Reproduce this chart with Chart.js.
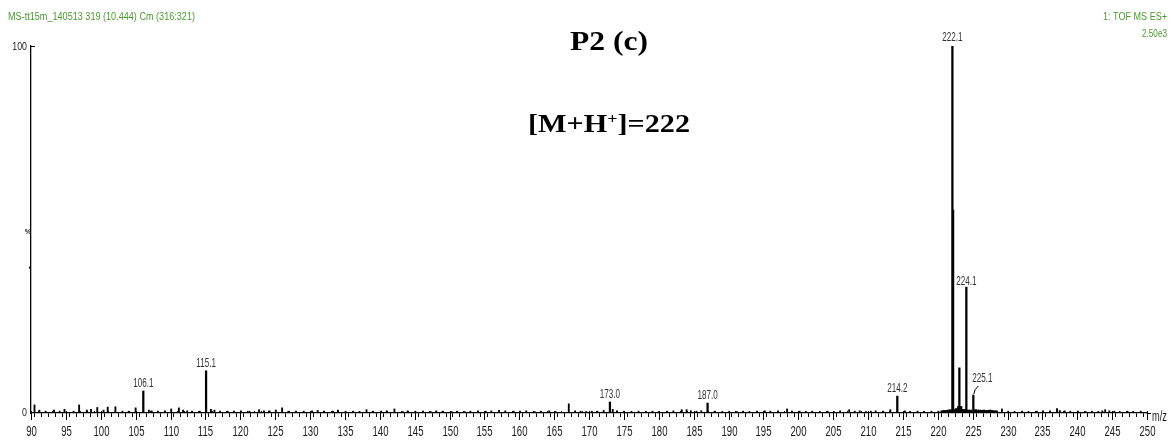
<!DOCTYPE html>
<html><head><meta charset="utf-8">
<script src="https://cdn.jsdelivr.net/npm/chart.js@4.4.1/dist/chart.umd.min.js"></script>
<style>html,body{margin:0;padding:0;background:#fff;overflow:hidden}</style>
</head><body>
<canvas id="c" width="1175" height="441"></canvas>
<script>
// ---- data ----
const xTickValues = [90,95,100,105,110,115,120,125,130,135,140,145,150,155,160,165,170,175,180,185,190,195,200,205,210,215,220,225,230,235,240,245,250];
const xTickLabels = ['90','95','100','105','110','115','120','125','130','135','140','145','150','155','160','165','170','175','180','185','190','195','200','205','210','215','220','225','230','235','240','245','250'];
const yTickValues = [0,100];
const yTickLabels = ['0','100'];

const peakMz     = [106.1, 115.1, 173.0, 187.0, 214.2, 222.1, 222.2, 223.1, 224.1, 225.1];
const peakPct    = [6.0,   11.5,  3.0,   2.7,   4.6,   100,   55.3,  12.3,  34.3,  4.9];
const peakLabels = ['106.1','115.1','173.0','187.0','214.2','222.1','','','224.1','225.1'];

const noiseMz  = [90.5,91.2,92.1,93.3,94.1,94.8,96.1,96.9,98.0,98.6,99.5,100.4,101.0,102.1,103.1,104.0,105.0,106.9,107.3,108.2,109.2,110.1,111.2,111.8,112.4,113.1,114.2,115.8,116.3,117.1,118.2,119.1,120.1,121.3,122.7,123.4,124.2,125.1,126.0,126.9,128.0,129.1,130.3,131.1,132.0,133.3,134.0,135.1,136.2,137.1,138.1,139.0,140.2,141.0,142.1,143.3,144.0,145.1,146.2,147.3,148.1,149.0,150.3,151.1,152.2,153.0,154.1,155.2,156.0,157.1,158.0,159.2,160.1,161.0,162.2,163.1,164.3,165.2,167.1,168.0,168.8,169.6,170.4,171.2,172.1,173.4,174.0,175.0,176.1,177.1,178.2,179.1,180.0,181.2,182.1,183.3,184.0,184.6,185.4,186.1,188.0,189.1,190.1,191.2,192.1,193.0,194.1,195.2,196.0,197.1,198.4,199.1,200.2,201.1,202.0,203.1,204.2,205.1,206.0,207.3,208.1,208.8,209.7,210.4,211.1,212.2,213.2,215.3,216.0,217.1,218.0,219.1,220.1,229.2,230.1,231.0,232.1,233.0,234.2,235.1,236.1,237.1,237.5,238.2,239.0,240.1,241.2,242.1,243.0,243.6,244.0,244.6,245.3,246.1,247.2,248.0,249.1];
const noisePct = [2.2,0.8,0.5,0.8,0.5,1.0,0.5,2.2,0.8,1.0,1.5,0.8,1.6,1.7,0.5,0.5,1.4,0.8,0.6,0.5,0.6,1.1,1.4,0.8,0.6,0.5,0.5,1.0,0.8,0.5,0.5,0.5,0.6,0.5,0.9,0.6,0.6,0.8,1.4,0.5,0.5,0.5,0.6,0.7,0.5,0.5,0.8,0.5,0.5,0.4,0.9,0.5,0.5,0.6,1.1,0.4,0.6,0.5,0.5,0.4,0.6,0.5,0.4,0.5,0.4,0.5,0.6,0.5,0.6,0.7,0.6,0.5,0.5,0.6,0.4,0.5,0.6,0.4,2.5,0.6,0.5,0.4,0.5,0.5,0.7,1.0,0.6,0.5,0.4,0.5,0.4,0.5,0.4,0.5,0.6,0.9,0.9,0.6,0.5,0.6,0.5,0.4,0.5,0.4,0.5,0.4,0.5,0.6,0.5,0.6,1.1,0.5,0.5,0.4,0.5,0.4,0.5,0.4,0.6,0.9,0.5,0.6,0.4,0.5,0.6,0.5,0.9,0.6,0.4,0.5,0.4,0.5,0.5,1.1,0.5,0.4,0.5,0.4,0.5,0.6,0.6,1.2,0.7,0.6,0.5,0.5,0.4,0.5,0.4,0.6,0.9,0.6,0.5,0.4,0.5,0.4,0.5];

const bandMz  = [220.6,220.9,221.2,221.5,221.8,222.4,222.7,223.0,223.3,223.6,223.9,224.4,224.7,225.4,225.7,226.0,226.3,226.6,226.9,227.2,227.5,227.8,228.1,228.4];
const bandPct = [0.6,0.7,0.7,0.8,0.9,1.0,1.2,1.8,1.8,1.0,0.9,0.8,0.8,0.9,0.8,0.8,0.7,0.8,0.7,0.7,0.8,0.7,0.6,0.6];

const headerLeft = 'MS-tt15m_140513 319 (10.444) Cm (316:321)';
const headerRight1 = '1: TOF MS ES+';
const headerRight2 = '2.50e3';
const title1 = 'P2 (c)';
const xUnit = 'm/z';

// ---- helpers ----
function cText(ctx, str, x, y, font, sx, align, color, baseline) {
  ctx.save();
  ctx.font = font; ctx.fillStyle = color;
  ctx.textBaseline = baseline || 'middle';
  ctx.textAlign = align;
  ctx.translate(x, y); ctx.scale(sx, 1);
  ctx.fillText(str, 0, 0);
  ctx.restore();
}
function wText(ctx, str, x, y, font, targetW, align, color, baseline) {
  ctx.save(); ctx.font = font;
  const w = ctx.measureText(str).width;
  ctx.restore();
  cText(ctx, str, x, y, font, targetW / w, align, color, baseline);
}

const decor = {
  id: 'decor',
  afterDraw(chart) {
    const ctx = chart.ctx;
    const xs = chart.scales.x, ys = chart.scales.y;
    const base = ys.getPixelForValue(0);
    const top = ys.getPixelForValue(100);
    const ink = '#1a1a1a';
    ctx.save();
    ctx.strokeStyle = '#000'; ctx.lineWidth = 1;
    // axis extension + minor stubs above axis
    ctx.beginPath();
    ctx.moveTo(xs.right, base + 0.5); ctx.lineTo(xs.right + 4, base + 0.5);
    ctx.stroke();
    xs.ticks.forEach(t => {
      const px = Math.round(xs.getPixelForValue(t.value)) + 0.5;
      ctx.beginPath(); ctx.moveTo(px, base - 2); ctx.lineTo(px, base); ctx.stroke();
    });
    // longer major ticks + labels
    xTickValues.forEach((v, i) => {
      const px = Math.round(xs.getPixelForValue(v)) + 0.5;
      ctx.beginPath(); ctx.moveTo(px, base); ctx.lineTo(px, base + 7); ctx.stroke();
      cText(ctx, xTickLabels[i], px, 432, '14.5px "Liberation Sans", Arial, sans-serif', 0.66, 'center', ink);
    });
    cText(ctx, xUnit, xs.right + 5, 417, '14px "Liberation Sans", Arial, sans-serif', 0.66, 'left', ink);
    // y axis labels and top stub
    yTickValues.forEach((v, i) => {
      const py = ys.getPixelForValue(v);
      cText(ctx, yTickLabels[i], 27, py + (v === 0 ? 0 : 1), '11px "Liberation Sans", Arial, sans-serif', 0.8, 'right', ink);
    });
    ctx.beginPath(); ctx.moveTo(xs.left, top + 0.5); ctx.lineTo(xs.left + 4, top + 0.5); ctx.stroke();
    const p40 = ys.getPixelForValue(39.6);
    ctx.fillStyle = '#000'; ctx.fillRect(xs.left - 2, p40 - 1, 2, 2);
    cText(ctx, '%', 28, ys.getPixelForValue(49.5), 'bold 8px "Liberation Sans", Arial, sans-serif', 0.9, 'center', '#222');
    // peak labels
    peakMz.forEach((m, i) => {
      const lab = peakLabels[i];
      if (!lab) return;
      const px = xs.getPixelForValue(m);
      const py = ys.getPixelForValue(peakPct[i]);
      let lx = px, ly = py - 8;
      if (lab === '225.1') {
        lx = px + 9; ly = py - 17;
        ctx.beginPath();
        ctx.moveTo(px + 5, py - 9);
        ctx.quadraticCurveTo(px + 1, py - 6, px + 0.5, py - 1);
        ctx.stroke();
      }
      if (lab === '224.1') ly = py - 6;
      if (lab === '222.1') ly = py - 9;
      cText(ctx, lab, lx, ly, '13.5px "Liberation Sans", Arial, sans-serif', 0.6, 'center', '#333');
    });
    // headers
    const green = '#4a9a2c';
    wText(ctx, headerLeft, 8, 17, '10px "Liberation Sans", Arial, sans-serif', 187, 'left', green);
    wText(ctx, headerRight1, 1167, 17, '10px "Liberation Sans", Arial, sans-serif', 64, 'right', green);
    wText(ctx, headerRight2, 1167, 34.5, '10px "Liberation Sans", Arial, sans-serif', 25, 'right', green);
    // titles
    wText(ctx, title1, 609, 50, 'bold 28px "Liberation Serif", "Times New Roman", serif', 78, 'center', '#000', 'alphabetic');
    // [M+H+]=222 with superscript
    const fMain = 'bold 25px "Liberation Serif", "Times New Roman", serif';
    const fSup = 'bold 15px "Liberation Serif", "Times New Roman", serif';
    ctx.font = fMain;
    const a = '[M+H', c = ']=222';
    const wa = ctx.measureText(a).width, wc = ctx.measureText(c).width;
    ctx.font = fSup;
    const wb = ctx.measureText('+').width;
    const total = wa + wb + wc;
    const sx = 162 / total;
    const x0 = 528, yb = 131.7;
    cText(ctx, a, x0, yb, fMain, sx, 'left', '#000', 'alphabetic');
    cText(ctx, '+', x0 + wa * sx, yb - 9, fSup, sx, 'left', '#000', 'alphabetic');
    cText(ctx, c, x0 + (wa + wb) * sx, yb, fMain, sx, 'left', '#000', 'alphabetic');
    ctx.restore();
  }
};

const toPts = (xs, ys) => xs.map((x, i) => ({ x: x, y: ys[i] }));

new Chart(document.getElementById('c'), {
  type: 'bar',
  data: {
    datasets: [
      { label: 'peaks', data: toPts(peakMz, peakPct), backgroundColor: '#000', barThickness: 1.6, grouped: false, borderWidth: 0 },
      { label: 'noise', data: toPts(noiseMz, noisePct), backgroundColor: '#000', barThickness: 1.2, grouped: false, borderWidth: 0 },
      { label: 'band', data: toPts(bandMz, bandPct), backgroundColor: '#000', barThickness: 2.4, grouped: false, borderWidth: 0 }
    ]
  },
  options: {
    responsive: false,
    animation: false,
    devicePixelRatio: 1,
    layout: { padding: { left: 0, right: 28, top: 46, bottom: 0 } },
    plugins: { legend: { display: false }, tooltip: { enabled: false }, title: { display: false } },
    scales: {
      x: {
        type: 'linear', min: 90, max: 250, offset: false,
        ticks: { display: false, stepSize: 1, autoSkip: false },
        grid: { display: true, drawOnChartArea: false, drawTicks: true, tickLength: 4, color: '#000', lineWidth: 1 },
        border: { display: true, color: '#000', width: 1.3 },
        afterFit: s => { s.height = 28; }
      },
      y: {
        min: 0, max: 100,
        afterBuildTicks: s => { s.ticks = yTickValues.map(v => ({ value: v })); },
        ticks: { display: false },
        grid: { display: false, drawOnChartArea: false, drawTicks: false },
        border: { display: true, color: '#000', width: 1.3 },
        afterFit: s => { s.width = 31; }
      }
    }
  },
  plugins: [decor]
});
</script>
</body></html>
